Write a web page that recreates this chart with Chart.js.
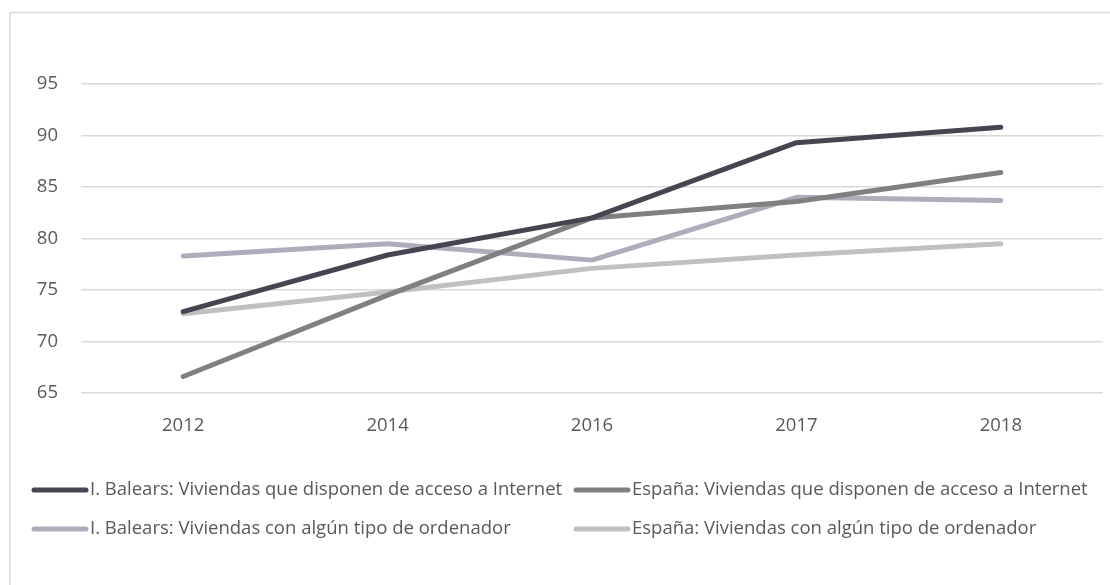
<!DOCTYPE html>
<html>
<head>
<meta charset="utf-8">
<script src="https://cdn.jsdelivr.net/npm/chart.js@4"></script>
<style>
  html, body { margin: 0; padding: 0; background: #fff; }
  #wrap { width: 1110px; height: 585px; position: relative; }
</style>
</head>
<body>
<div id="wrap"><canvas id="myChart"></canvas></div>
<script>
(function(){
const years = ['2012', '2014', '2016', '2017', '2018'];
const balearsInternet = [72.9, 78.4, 82.0, 89.3, 90.8];
const espanaInternet = [66.6, 74.5, 82.0, 83.6, 86.4];
const balearsOrdenador = [78.3, 79.5, 77.9, 84.0, 83.7];
const espanaOrdenador = [72.7, 74.8, 77.1, 78.4, 79.5];
const yTicks = [65, 70, 75, 80, 85, 90, 95];

const font = { family: "'Open Sans', 'Noto Sans', sans-serif", size: 18.5 };
const textColor = '#595959';

const series = (label, data, color) => ({
  label: label,
  data: data,
  borderColor: color,
  backgroundColor: color,
  borderWidth: 5,
  borderCapStyle: 'round',
  borderJoinStyle: 'round',
  pointRadius: 0,
  tension: 0,
});

const datasets = [
  series('I. Balears: Viviendas que disponen de acceso a Internet', balearsInternet, '#464652'),
  series('España: Viviendas que disponen de acceso a Internet', espanaInternet, '#808080'),
  series('I. Balears: Viviendas con algún tipo de ordenador', balearsOrdenador, '#adadbb'),
  series('España: Viviendas con algún tipo de ordenador', espanaOrdenador, '#c0c0c0'),
];

// frame + 2x2 legend like the original
const frame = {
  id: 'frame',
  beforeDraw(chart) {
    const c = chart.ctx;
    c.save();
    c.fillStyle = '#fff';
    c.fillRect(0, 0, chart.width, chart.height);
    c.strokeStyle = '#d9d9d9';
    c.lineWidth = 1.5;
    c.strokeRect(10, 12.5, chart.width + 20, chart.height + 20);
    c.restore();
  },
  afterDraw(chart) {
    const c = chart.ctx;
    const cols = [32, 574];
    const rows = [490, 529];
    c.save();
    c.font = font.size + 'px ' + font.family;
    c.textBaseline = 'middle';
    c.fillStyle = textColor;
    chart.data.datasets.forEach((d, i) => {
      const x = cols[i % 2], y = rows[Math.floor(i / 2)];
      c.strokeStyle = d.borderColor;
      c.lineWidth = 5;
      c.lineCap = 'round';
      c.beginPath();
      c.moveTo(x + 2, y);
      c.lineTo(x + 54, y);
      c.stroke();
      c.fillText(d.label, x + 58, y);
    });
    c.restore();
  }
};

new Chart(document.getElementById('myChart'), {
  type: 'line',
  data: { labels: years, datasets: datasets },
  plugins: [frame],
  options: {
    responsive: true,
    maintainAspectRatio: false,
    animation: false,
    layout: { padding: { top: 84, right: 7, bottom: 142, left: 0 } },
    plugins: {
      legend: { display: false },
      tooltip: { enabled: false },
    },
    scales: {
      x: {
        offset: true,
        grid: { display: false },
        border: { display: false },
        ticks: { color: textColor, font: font, padding: 14 },
        afterFit: s => { s.height = 50; },
      },
      y: {
        min: 65,
        max: 95,
        afterBuildTicks: s => { s.ticks = yTicks.map(v => ({ value: v })); },
        grid: { color: '#d9d9d9', lineWidth: 1.5, drawTicks: false },
        border: { display: false },
        ticks: { color: textColor, font: font, padding: 23 },
        afterFit: s => { s.width = 81; },
      },
    },
  },
});
})();
</script>
</body>
</html>
